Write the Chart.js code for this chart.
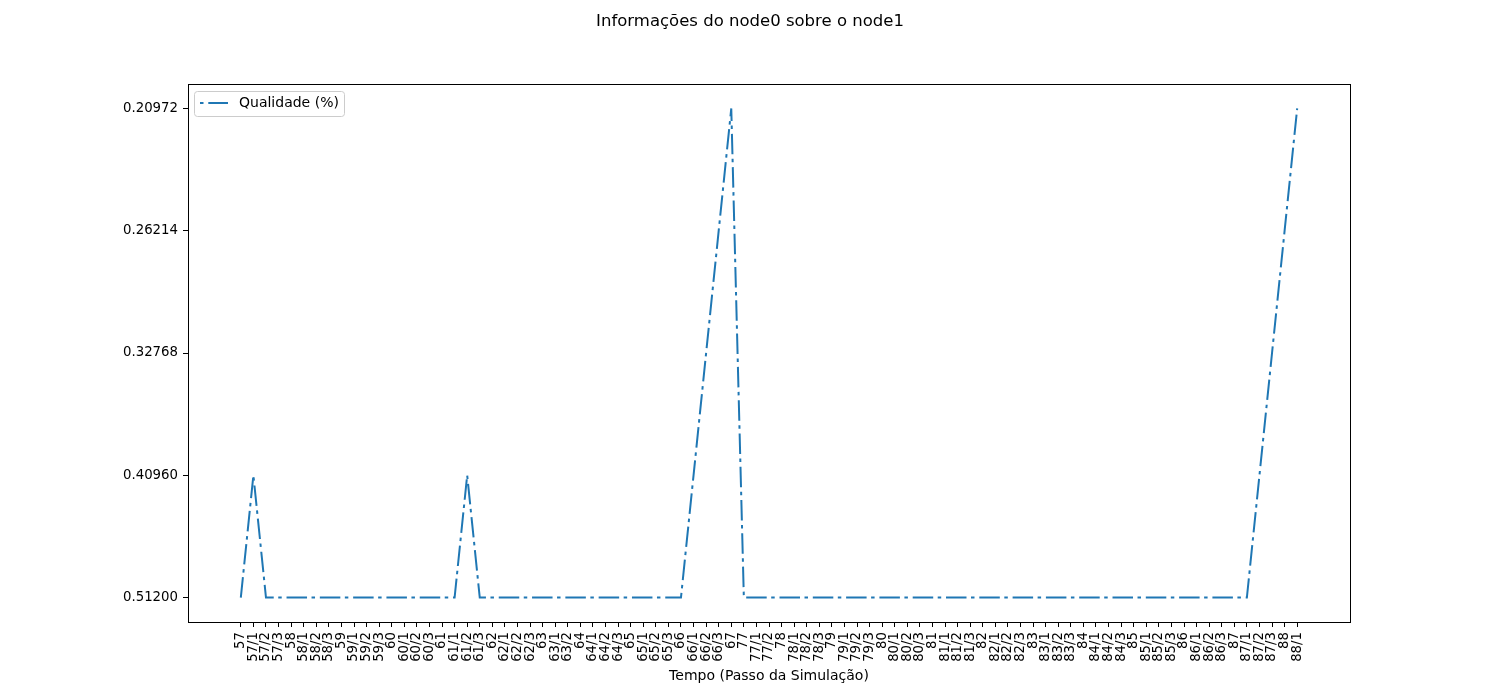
<!DOCTYPE html>
<html>
<head>
<meta charset="utf-8">
<script src="https://cdn.jsdelivr.net/npm/chart.js@4/dist/chart.umd.min.js"></script>
<style>
  html, body { margin: 0; padding: 0; background: #fff; }
  #wrap { width: 1500px; height: 700px; }
</style>
</head>
<body>
<div id="wrap"><canvas id="myChart" width="1500" height="700"></canvas></div>
<script>
// categorias do eixo x (passos da simulacao)
const xCats = [
    '57', '57/1', '57/2', '57/3', '58', '58/1', '58/2', '58/3',
    '59', '59/1', '59/2', '59/3', '60', '60/1', '60/2', '60/3',
    '61', '61/1', '61/2', '61/3', '62', '62/1', '62/2', '62/3',
    '63', '63/1', '63/2', '64', '64/1', '64/2', '64/3',
    '65', '65/1', '65/2', '65/3', '66', '66/1', '66/2', '66/3',
    '67', '77', '77/1', '77/2', '78', '78/1', '78/2', '78/3',
    '79', '79/1', '79/2', '79/3', '80', '80/1', '80/2', '80/3',
    '81', '81/1', '81/2', '81/3', '82', '82/1', '82/2', '82/3',
    '83', '83/1', '83/2', '83/3', '84', '84/1', '84/2', '84/3',
    '85', '85/1', '85/2', '85/3', '86', '86/1', '86/2', '86/3',
    '87', '87/1', '87/2', '87/3', '88', '88/1'
];

// categorias do eixo y (de baixo para cima)
const yCats = ['0.51200', '0.40960', '0.32768', '0.26214', '0.20972'];

// qualidade em cada passo
const qualidade = [
    '0.51200', '0.40960', '0.51200', '0.51200', '0.51200', '0.51200', '0.51200', '0.51200',
    '0.51200', '0.51200', '0.51200', '0.51200', '0.51200', '0.51200', '0.51200', '0.51200',
    '0.51200', '0.51200', '0.40960', '0.51200', '0.51200', '0.51200', '0.51200', '0.51200',
    '0.51200', '0.51200', '0.51200', '0.51200', '0.51200', '0.51200', '0.51200',
    '0.51200', '0.51200', '0.51200', '0.51200', '0.51200', '0.40960', '0.32768', '0.26214',
    '0.20972', '0.51200', '0.51200', '0.51200', '0.51200', '0.51200', '0.51200', '0.51200',
    '0.51200', '0.51200', '0.51200', '0.51200', '0.51200', '0.51200', '0.51200', '0.51200',
    '0.51200', '0.51200', '0.51200', '0.51200', '0.51200', '0.51200', '0.51200', '0.51200',
    '0.51200', '0.51200', '0.51200', '0.51200', '0.51200', '0.51200', '0.51200', '0.51200',
    '0.51200', '0.51200', '0.51200', '0.51200', '0.51200', '0.51200', '0.51200', '0.51200',
    '0.51200', '0.51200', '0.40960', '0.32768', '0.26214', '0.20972'
];

const FONT = "'DejaVu Sans', sans-serif";
const BLUE = '#1f77b4';
const DASH = [20.5, 4.5, 3.5, 4.8];

// titulo, moldura e legenda dentro do grafico
const framePlugin = {
    id: 'frame',
    afterDraw(chart) {
        const ctx = chart.ctx;
        const a = chart.chartArea;
        ctx.save();

        ctx.fillStyle = '#000';
        ctx.font = '16.5px ' + FONT;
        ctx.textAlign = 'center';
        ctx.textBaseline = 'middle';
        ctx.fillText('Informações do node0 sobre o node1', chart.width / 2, 22);

        ctx.strokeStyle = '#000';
        ctx.lineWidth = 1;
        ctx.strokeRect(Math.round(a.left) + 0.5, Math.round(a.top) + 0.5,
            Math.round(a.right - a.left), Math.round(a.bottom - a.top));

        // legenda
        const lx = a.left + 6, ly = a.top + 7, lw = 150, lh = 25;
        ctx.beginPath();
        ctx.roundRect(lx + 0.5, ly + 0.5, lw, lh, 3);
        ctx.fillStyle = 'rgba(255,255,255,0.8)';
        ctx.fill();
        ctx.strokeStyle = '#cccccc';
        ctx.stroke();

        ctx.beginPath();
        ctx.setLineDash(DASH);
        ctx.lineDashOffset = DASH[0] + DASH[1];
        ctx.strokeStyle = BLUE;
        ctx.lineWidth = 2;
        ctx.moveTo(lx + 6, ly + 12);
        ctx.lineTo(lx + 34, ly + 12);
        ctx.stroke();
        ctx.setLineDash([]);

        ctx.fillStyle = '#000';
        ctx.font = '14px ' + FONT;
        ctx.textAlign = 'left';
        ctx.fillText('Qualidade (%)', lx + 45, ly + 12.5);
        ctx.restore();
    }
};

const ctx = document.getElementById('myChart').getContext('2d');
const myChart = new Chart(ctx, {
    type: 'line',
    data: {
        datasets: [{
            label: 'Qualidade (%)',
            data: qualidade.map((q, i) => ({ x: i, y: yCats.indexOf(q) })),
            borderColor: BLUE,
            borderWidth: 2,
            borderDash: DASH,
            borderCapStyle: 'butt',
            pointRadius: 0,
            tension: 0,
            fill: false
        }]
    },
    options: {
        responsive: false,
        animation: false,
        layout: { padding: { left: 0, right: 150, top: 84, bottom: 0 } },
        plugins: {
            legend: { display: false },
            tooltip: { enabled: false },
            title: { display: false }
        },
        scales: {
            x: {
                type: 'linear',
                min: -4.2,
                max: 88.2,
                afterBuildTicks: (scale) => {
                    scale.ticks = xCats.map((_, i) => ({ value: i }));
                },
                afterFit: (scale) => { scale.height = 78; },
                grid: { drawOnChartArea: false, drawTicks: true, tickLength: 5, color: '#000' },
                border: { display: true, color: '#000' },
                ticks: {
                    autoSkip: false,
                    minRotation: 90,
                    maxRotation: 90,
                    padding: 5,
                    color: '#000',
                    font: { family: FONT, size: 13.3 },
                    callback: (v) => xCats[v]
                },
                title: {
                    display: true,
                    text: 'Tempo (Passo da Simulação)',
                    color: '#000',
                    font: { family: FONT, size: 14 },
                    padding: { top: 0, bottom: 15 }
                }
            },
            y: {
                type: 'linear',
                min: -0.2,
                max: 4.2,
                afterBuildTicks: (scale) => {
                    scale.ticks = yCats.map((_, i) => ({ value: i }));
                },
                afterFit: (scale) => { scale.width = 188; },
                grid: { drawOnChartArea: false, drawTicks: true, tickLength: 5, color: '#000' },
                border: { display: true, color: '#000' },
                ticks: {
                    padding: 5,
                    color: '#000',
                    font: { family: FONT, size: 13.3 },
                    callback: (v) => yCats[v]
                }
            }
        }
    },
    plugins: [framePlugin]
});
</script>
</body>
</html>
